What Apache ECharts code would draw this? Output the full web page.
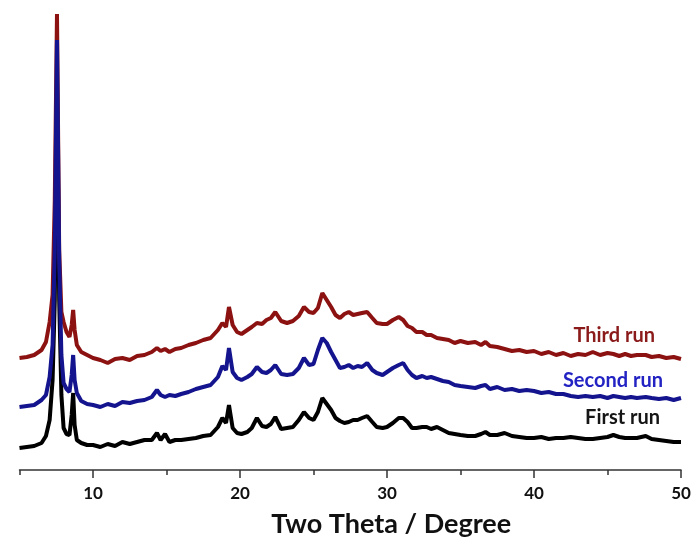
<!DOCTYPE html>
<html>
<head>
<meta charset="utf-8">
<title>XRD runs</title>
<script src="https://cdn.jsdelivr.net/npm/echarts@6/dist/echarts.min.js"></script>
<style>
  html, body { margin: 0; padding: 0; background: #fff; }
  #chart { width: 696px; height: 554px; }
</style>
</head>
<body>
<div id="chart"></div>
<script>
// 2-theta positions (degree)
var twoTheta = [5.0, 5.5, 6.0, 6.5, 6.8, 7.05, 7.25, 7.4, 7.55, 7.7, 7.85, 8.0, 8.2, 8.4, 8.55, 8.65, 8.75, 8.9, 9.2, 9.6,
  10.0, 10.5, 11.0, 11.5, 12.0, 12.5, 13.0, 13.5, 14.0, 14.35, 14.6, 14.9, 15.2, 15.6, 16.0, 16.5, 17.0, 17.5, 18.0, 18.5,
  18.8, 19.05, 19.25, 19.5, 19.8, 20.1, 20.5, 20.8, 21.15, 21.5, 21.8, 22.1, 22.4, 22.8, 23.2, 23.6, 24.0, 24.35, 24.7, 25.0,
  25.3, 25.6, 25.9, 26.2, 26.5, 26.8, 27.1, 27.4, 27.7, 28.0, 28.3, 28.65, 29.0, 29.3, 29.7, 30.0, 30.4, 30.8, 31.1, 31.4,
  31.7, 32.0, 32.4, 32.7, 33.0, 33.4, 33.8, 34.2, 34.6, 35.0, 35.5, 36.0, 36.4, 36.7, 37.0, 37.5, 38.0, 38.5, 39.0, 39.5,
  40.0, 40.5, 41.0, 41.5, 42.0, 42.5, 43.0, 43.5, 44.0, 44.5, 45.0, 45.4, 45.8, 46.2, 46.6, 47.0, 47.6, 48.0, 48.5, 49.0,
  49.5, 50.0];

// intensities (a.u., curves already offset)
var thirdRun = [112, 113, 115, 120, 128, 148, 175, 270, 456, 220, 158, 148, 138, 133, 145, 160, 140, 125, 118, 115,
  112, 110, 107, 111, 112, 110, 114, 115, 118, 122, 119, 121, 118, 121, 122, 125, 127, 130, 132, 140,
  147, 143, 163, 145, 138, 136, 140, 143, 147, 146, 150, 152, 158, 149, 147, 149, 154, 163, 158, 157,
  162, 177, 170, 163, 155, 152, 156, 158, 155, 156, 157, 158, 152, 147, 146, 146, 150, 153, 150, 144,
  142, 138, 138, 135, 135, 132, 131, 130, 127, 129, 127, 128, 125, 128, 124, 123, 121, 119, 120, 118,
  119, 116, 118, 115, 117, 114, 116, 115, 118, 115, 117, 116, 114, 116, 114, 115, 115, 113, 114, 112,
  113, 111];

var secondRun = [63, 64, 65, 70, 75, 93, 125, 220, 430, 210, 115, 87, 81, 78, 95, 115, 90, 77, 69, 66,
  65, 63, 66, 64, 68, 67, 69, 70, 73, 80, 75, 73, 75, 74, 76, 78, 81, 83, 85, 93,
  104, 100, 122, 98, 92, 90, 93, 96, 103, 98, 97, 100, 105, 96, 95, 96, 102, 112, 105, 106,
  120, 132, 127, 118, 110, 102, 103, 105, 102, 104, 103, 107, 100, 97, 95, 98, 102, 105, 107, 100,
  95, 92, 94, 92, 93, 91, 89, 88, 85, 84, 83, 82, 84, 85, 81, 83, 80, 81, 79, 80,
  79, 77, 78, 76, 76, 74, 73, 74, 73, 74, 72, 74, 73, 72, 73, 72, 73, 72, 71, 72,
  70, 72];

var firstRun = [22, 23, 24, 27, 34, 50, 90, 170, 390, 170, 75, 42, 36, 35, 55, 77, 45, 30, 27, 25,
  25, 23, 26, 24, 28, 26, 28, 30, 30, 37, 30, 36, 28, 30, 30, 31, 32, 34, 35, 43,
  52, 47, 65, 42, 37, 36, 38, 42, 52, 44, 43, 46, 53, 41, 42, 43, 50, 58, 52, 50,
  58, 72, 66, 60, 52, 49, 47, 48, 50, 50, 52, 54, 48, 43, 42, 43, 47, 52, 52, 48,
  42, 42, 43, 43, 41, 43, 40, 37, 36, 35, 34, 34, 36, 38, 35, 35, 37, 34, 33, 32,
  32, 33, 31, 32, 32, 33, 32, 31, 31, 32, 33, 35, 33, 32, 32, 32, 34, 31, 30, 29,
  28, 28];

var majorTicks = [10, 20, 30, 40, 50];
var minorTicks = [5, 15, 25, 35, 45];
var runNames = ['First run', 'Second run', 'Third run'];

function pairs(ys) {
  return twoTheta.map(function (x, i) { return [x, ys[i]]; });
}

var chart = echarts.init(document.getElementById('chart'));
var fontFamily = 'Lato, "Open Sans", sans-serif';

chart.setOption({
  animation: false,
  backgroundColor: '#fff',
  grid: { left: 19.5, right: 15, top: 10, bottom: 84 },
  xAxis: [
    {
      type: 'value',
      position: 'bottom',
      min: 5,
      max: 50,
      name: 'Two Theta / Degree',
      nameLocation: 'middle',
      nameGap: 41,
      // title sits a bit right of the axis centre in the original
      nameTextStyle: { fontFamily: fontFamily, fontSize: 27, fontWeight: 'bold', color: '#111', padding: [0, 0, 0, 82] },
      axisLine: { lineStyle: { color: '#333', width: 1.5 } },
      axisTick: { customValues: majorTicks, length: 8, lineStyle: { color: '#333', width: 1.5 } },
      axisLabel: { customValues: majorTicks, margin: 15, fontFamily: fontFamily, fontSize: 17, fontWeight: 'bold', color: '#111' },
      splitLine: { show: false }
    },
    {
      type: 'value',
      position: 'bottom',
      min: 5,
      max: 50,
      axisLine: { show: false },
      axisTick: { customValues: minorTicks, length: 5, lineStyle: { color: '#333', width: 1.5 } },
      axisLabel: { show: false },
      splitLine: { show: false }
    }
  ],
  yAxis: { type: 'value', min: 0, max: 460, show: false },
  graphic: [
    { type: 'text', right: 41, top: 326, style: { text: runNames[2], fill: '#8b1a1a', font: 'bold 20px ' + fontFamily } },
    { type: 'text', right: 33, top: 371, style: { text: runNames[1], fill: '#2323c4', font: 'bold 20px ' + fontFamily } },
    { type: 'text', right: 36, top: 408, style: { text: runNames[0], fill: '#151515', font: 'bold 20px ' + fontFamily } }
  ],
  series: [
    {
      name: runNames[0], type: 'line', z: 2, showSymbol: false,
      lineStyle: { color: '#000000', width: 4 },
      data: pairs(firstRun)
    },
    {
      name: runNames[2], type: 'line', z: 3, showSymbol: false,
      lineStyle: { color: '#8c1212', width: 4 },
      data: pairs(thirdRun)
    },
    {
      name: runNames[1], type: 'line', z: 4, showSymbol: false,
      lineStyle: { color: '#14148e', width: 4 },
      data: pairs(secondRun)
    }
  ]
});
</script>
</body>
</html>
